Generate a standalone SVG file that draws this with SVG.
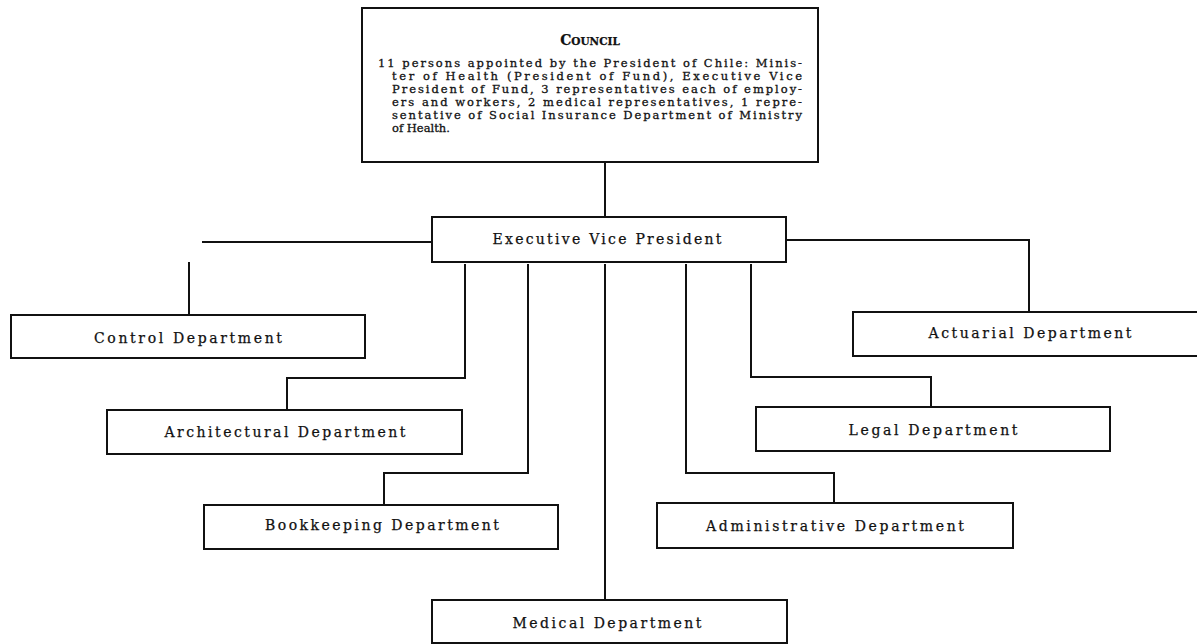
<svg xmlns="http://www.w3.org/2000/svg" width="1197" height="644" viewBox="0 0 1197 644">
<style>
.box{fill:#fff;stroke:#111;stroke-width:2}
.ln{fill:none;stroke:#111;stroke-width:2}
.t{font-family:"DejaVu Serif","Liberation Serif",serif;font-size:14px;fill:#111;text-anchor:middle;stroke:#111;stroke-width:0.25}
.c{font-family:"DejaVu Serif","Liberation Serif",serif;font-size:11.5px;fill:#111;stroke:#111;stroke-width:0.3}
</style>
<rect width="1197" height="644" fill="#fff"/>
<g id="connectors">
<path class="ln" d="M605,163V217"/>
<path class="ln" d="M202,242H432"/>
<path class="ln" d="M189,262V315"/>
<path class="ln" d="M786,240H1029V312"/>
<path class="ln" d="M465,264V378H287V410"/>
<path class="ln" d="M528,264V473H384V505"/>
<path class="ln" d="M605,264V600"/>
<path class="ln" d="M686,264V473H834V503"/>
<path class="ln" d="M751,264V377H931V407"/>
</g>
<g id="council">
<rect class="box" x="362" y="8" width="456" height="154"/>
<text class="t" x="590" y="45" font-weight="bold" font-size="14">C<tspan font-size="10.5">OUNCIL</tspan></text>
<text class="c" x="378" y="67" textLength="424" lengthAdjust="spacing">11 persons appointed by the President of Chile: Minis-</text>
<text class="c" x="392" y="80" textLength="410" lengthAdjust="spacing">ter of Health (President of Fund), Executive Vice</text>
<text class="c" x="392" y="93" textLength="410" lengthAdjust="spacing">President of Fund, 3 representatives each of employ-</text>
<text class="c" x="392" y="106" textLength="410" lengthAdjust="spacing">ers and workers, 2 medical representatives, 1 repre-</text>
<text class="c" x="392" y="119" textLength="410" lengthAdjust="spacing">sentative of Social Insurance Department of Ministry</text>
<text class="c" x="392" y="132">of Health.</text>
</g>
<g id="evp">
<rect class="box" x="432" y="217" width="354" height="45"/>
<text class="t" x="607" y="244" textLength="229" lengthAdjust="spacing">Executive Vice President</text>
</g>
<g id="control">
<rect class="box" x="11" y="315" width="354" height="43"/>
<text class="t" x="188" y="343" textLength="188" lengthAdjust="spacing">Control Department</text>
</g>
<g id="actuarial">
<rect class="box" x="853" y="312" width="354" height="44"/>
<text class="t" x="1030" y="338" textLength="203" lengthAdjust="spacing">Actuarial Department</text>
</g>
<g id="architectural">
<rect class="box" x="107" y="410" width="355" height="44"/>
<text class="t" x="285" y="437" textLength="241" lengthAdjust="spacing">Architectural Department</text>
</g>
<g id="legal">
<rect class="box" x="756" y="407" width="354" height="44"/>
<text class="t" x="933" y="435" textLength="169" lengthAdjust="spacing">Legal Department</text>
</g>
<g id="bookkeeping">
<rect class="box" x="204" y="505" width="354" height="44"/>
<text class="t" x="382" y="530" textLength="234" lengthAdjust="spacing">Bookkeeping Department</text>
</g>
<g id="administrative">
<rect class="box" x="657" y="503" width="356" height="45"/>
<text class="t" x="835" y="531" textLength="258" lengthAdjust="spacing">Administrative Department</text>
</g>
<g id="medical">
<rect class="box" x="432" y="600" width="355" height="43"/>
<text class="t" x="607" y="628" textLength="189" lengthAdjust="spacing">Medical Department</text>
</g>
</svg>
